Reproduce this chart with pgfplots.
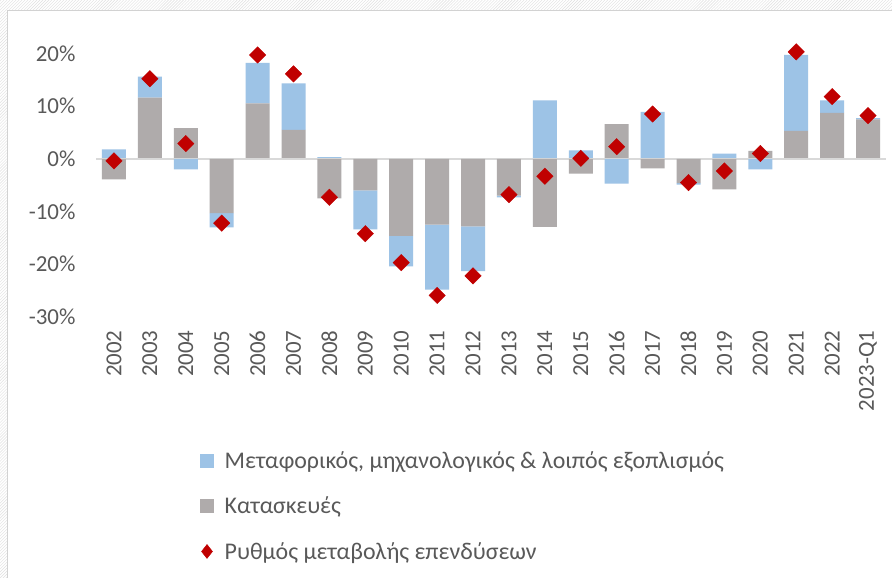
\documentclass[border=0pt]{standalone}
\usepackage{pgfplots}
\pgfplotsset{compat=1.18}
\usepackage{pgfplotstable}
\usepackage{fontspec}
\setmainfont{Carlito}
\usetikzlibrary{patterns}
\definecolor{cblue}{HTML}{9DC3E6}
\definecolor{cgrey}{HTML}{AFABAB}
\definecolor{cred}{HTML}{C00000}
\definecolor{ctext}{HTML}{595959}
\definecolor{czero}{HTML}{D9D9D9}

% x  gp (grey +)  bp (blue +)  gn (grey -)  bn (blue -)  d (total)
\pgfplotstableread{
x  gp    bp    gn     bn     d
0  0     1.8   -3.9   0      -0.4
1  11.6  4.0   0      0      15.2
2  5.8   0     0      -2.0   2.9
3  0     0     -10.3  -2.7   -12.2
4  10.5  7.7   0      0      19.7
5  5.5   8.8   0      0      16.1
6  0     0.3   -7.5   0      -7.3
7  0     0     -6.0   -7.4   -14.2
8  0     0     -14.6  -5.8   -19.7
9  0     0     -12.5  -12.3  -25.9
10 0     0     -12.8  -8.5   -22.2
11 0     0     -7.0   -0.3   -6.8
12 0     11.1  -12.9  0      -3.3
13 0     1.6   -2.8   0      0.1
14 6.6   0     0      -4.7   2.3
15 0     8.9   -1.8   0      8.5
16 0     0     -4.6   -0.3   -4.5
17 0     1.0   -5.8   0      -2.3
18 1.5   0     0      -2.0   1.0
19 5.3   14.4  0      0      20.3
20 8.7   2.4   0      0      11.8
21 7.5   0.2   0      0      8.2
}\data

\pgfplotsset{
  base/.style={
    at={(96bp,261bp)}, anchor=south west,
    scale only axis, width=790bp, height=290bp,
    xmin=-0.5, xmax=21.5, ymin=-30, ymax=25,
    axis line style={draw=none},
    major tick length=0pt,
    clip=false,
  },
  lblfont/.style={font=\fontsize{23}{27}\selectfont, text=ctext},
}

\begin{document}
\begin{tikzpicture}
\useasboundingbox (0,0) rectangle (892bp,578bp);
\fill[pattern=north east lines, pattern color=gray!25] (0,0) rectangle (892bp,578bp);
\fill[white] (7bp,0) rectangle (892bp,567bp);
\draw[gray!35, line width=1bp] (7bp,-2bp) -- (7bp,567bp) -- (894bp,567bp);

% positive stacks + ticks
\begin{axis}[base, ybar stacked, bar width=24bp,
  xtick={0,...,21},
  xticklabels={2002,2003,2004,2005,2006,2007,2008,2009,2010,2011,2012,2013,2014,2015,2016,2017,2018,2019,2020,2021,2022,2023-Q1},
  x tick label style={lblfont, rotate=90, anchor=east, xshift=-10bp},
  ytick={-30,-20,-10,0,10,20},
  yticklabels={-30\%,-20\%,-10\%,0\%,10\%,20\%},
  y tick label style={lblfont, xshift=-17bp},
]
\addplot[fill=cgrey, draw=none] table[x=x, y=gp] {\data};
\addplot[fill=cblue, draw=none] table[x=x, y=bp] {\data};
\end{axis}

% negative stacks
\begin{axis}[base, ybar stacked, bar width=24bp, xtick=\empty, ytick=\empty]
\addplot[fill=cgrey, draw=none] table[x=x, y=gn] {\data};
\addplot[fill=cblue, draw=none] table[x=x, y=bn] {\data};
\draw[czero, line width=2bp] (axis cs:-0.5,0) -- (axis cs:21.5,0);
\end{axis}

% totals + legend
\begin{axis}[base, xtick=\empty, ytick=\empty,
  legend style={at={(0.128,-0.45)}, anchor=north west, draw=none, fill=none,
    font=\fontsize{24}{28}\selectfont, text=ctext, row sep=23bp},
  legend cell align=left,
]
\addplot[only marks, mark=square*, mark size=5.8bp,
  mark options={rotate=45, fill=cred, draw=cred}, forget plot]
  table[x=x, y=d] {\data};

\addlegendimage{legend image code/.code={\fill[cblue] (0bp,-6.5bp) rectangle (13bp,6.5bp); \path (22bp,0bp);}}
\addlegendentry{Μεταφορικός, μηχανολογικός \& λοιπός εξοπλισμός}
\addlegendimage{legend image code/.code={\fill[cgrey] (0bp,-6.5bp) rectangle (13bp,6.5bp); \path (22bp,0bp);}}
\addlegendentry{Κατασκευές}
\addlegendimage{legend image code/.code={\fill[cred] (6.5bp,7bp) -- (12bp,0bp) -- (6.5bp,-7bp) -- (1bp,0bp) -- cycle; \path (22bp,0bp);}}
\addlegendentry{Ρυθμός μεταβολής επενδύσεων}
\end{axis}
\end{tikzpicture}
\end{document}
